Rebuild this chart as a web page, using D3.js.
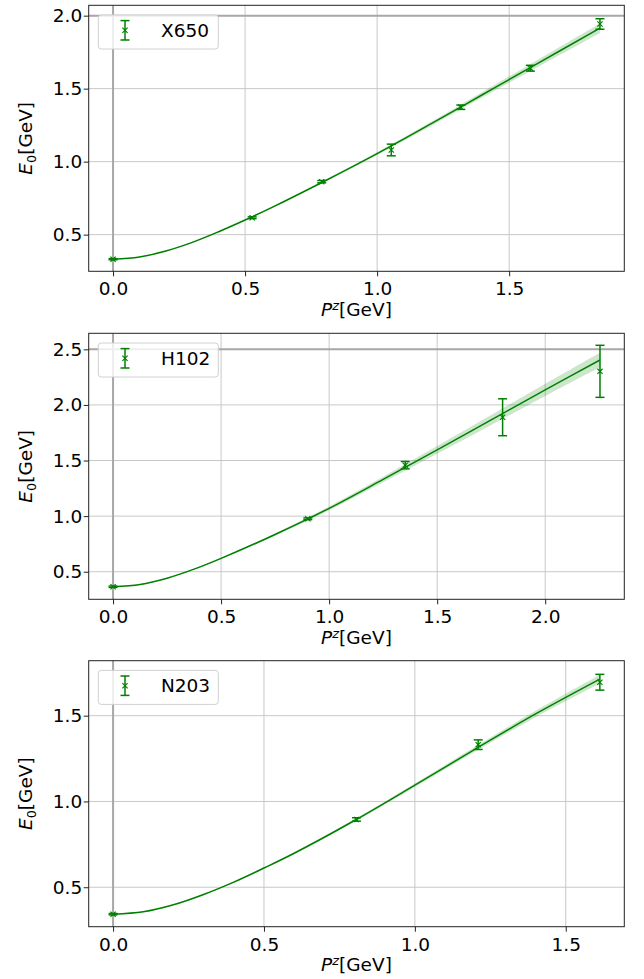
<!DOCTYPE html>
<html>
<head>
<meta charset="utf-8">
<script src="https://cdn.jsdelivr.net/npm/d3@7"></script>
<style>
  html, body { margin: 0; padding: 0; background: #fff; }
  svg { display: block; }
  text { font-family: "DejaVu Sans", Verdana, sans-serif; fill: #000; }
</style>
</head>
<body>
<svg id="chart" width="644" height="979"></svg>
<script>
// ---------------- DATA ----------------
const ensembles = ["X650", "H102", "N203"];

// X650
const pzX650   = [0, 0.5268, 0.7902, 1.0536, 1.3170, 1.5804, 1.8438];
const eX650    = [0.332, 0.616, 0.863, 1.080, 1.373, 1.640, 1.943];
const errX650  = [0.004, 0.006, 0.008, 0.040, 0.015, 0.020, 0.036];
const fitPX650 = [0, 0.1, 0.2, 0.3, 0.4, 0.5, 0.6, 0.8, 1.0, 1.2, 1.4, 1.6, 1.8438];
const fitEX650 = [0.332, 0.347, 0.388, 0.447, 0.520, 0.600, 0.685, 0.866, 1.055, 1.255, 1.460, 1.665, 1.914];
const fitDX650 = [0.002, 0.002, 0.002, 0.003, 0.003, 0.004, 0.004, 0.006, 0.010, 0.014, 0.019, 0.025, 0.033];

// H102
const pzH102   = [0, 0.9014, 1.3521, 1.8028, 2.2535];
const eH102    = [0.365, 0.976, 1.458, 1.889, 2.302];
const errH102  = [0.006, 0.008, 0.033, 0.166, 0.234];
const fitPH102 = [0, 0.125, 0.25, 0.375, 0.5, 0.75, 1.0, 1.25, 1.5, 1.75, 2.0, 2.2535];
const fitEH102 = [0.365, 0.386, 0.442, 0.523, 0.620, 0.835, 1.070, 1.330, 1.595, 1.865, 2.135, 2.404];
const fitDH102 = [0.003, 0.003, 0.003, 0.004, 0.005, 0.010, 0.017, 0.025, 0.035, 0.045, 0.055, 0.065];

// N203
const pzN203   = [0, 0.8065, 1.2098, 1.6130];
const eN203    = [0.343, 0.895, 1.331, 1.695];
const errN203  = [0.004, 0.010, 0.028, 0.046];
const fitPN203 = [0, 0.1, 0.2, 0.3, 0.4, 0.5, 0.6, 0.8, 1.0, 1.2, 1.4, 1.613];
const fitEN203 = [0.343, 0.357, 0.398, 0.458, 0.530, 0.612, 0.698, 0.889, 1.095, 1.305, 1.510, 1.713];
const fitDN203 = [0.002, 0.002, 0.002, 0.003, 0.003, 0.004, 0.005, 0.007, 0.010, 0.014, 0.019, 0.026];

// axis ranges and ticks
const xDomains = [[-0.0922, 1.936], [-0.1127, 2.366], [-0.0808, 1.694]];
const yDomains = [[0.249, 2.071], [0.252, 2.644], [0.270, 1.8205]];
const xTicks = [[0, 0.5, 1.0, 1.5], [0, 0.5, 1.0, 1.5, 2.0], [0, 0.5, 1.0, 1.5]];
const yTicks = [[0.5, 1.0, 1.5, 2.0], [0.5, 1.0, 1.5, 2.0, 2.5], [0.5, 1.0, 1.5]];
const refY   = [[2.0], [2.5], []];
const refX   = [[0], [0], [0]];

// ---------------- LAYOUT ----------------
const svg = d3.select("#chart");
svg.append("rect").attr("width", 644).attr("height", 979).attr("fill", "#fff");

const left = 88.7, right = 624.3;
const tops = [5.3, 333.3, 660.7];
const plotH = 266;
const green = "#008000";
const FS = 18.5;

const datasets = [
  {pz: pzX650, e: eX650, err: errX650, fp: fitPX650, fe: fitEX650, fd: fitDX650},
  {pz: pzH102, e: eH102, err: errH102, fp: fitPH102, fe: fitEH102, fd: fitDH102},
  {pz: pzN203, e: eN203, err: errN203, fp: fitPN203, fe: fitEN203, fd: fitDN203}
];

datasets.forEach((ds, i) => {
  const top = tops[i], bottom = top + plotH;
  const x = d3.scaleLinear().domain(xDomains[i]).range([left, right]);
  const y = d3.scaleLinear().domain(yDomains[i]).range([bottom, top]);
  const g = svg.append("g");

  // grid
  const grid = g.append("g");
  grid.selectAll(".gx").data(xTicks[i]).join("line")
    .attr("x1", d => x(d)).attr("x2", d => x(d))
    .attr("y1", top).attr("y2", bottom)
    .attr("stroke", "#c8c8c8").attr("stroke-width", 1);
  grid.selectAll(".gy").data(yTicks[i]).join("line")
    .attr("x1", left).attr("x2", right)
    .attr("y1", d => y(d)).attr("y2", d => y(d))
    .attr("stroke", "#c8c8c8").attr("stroke-width", 1);

  // reference lines
  grid.selectAll(".rx").data(refX[i]).join("line")
    .attr("x1", d => x(d)).attr("x2", d => x(d))
    .attr("y1", top).attr("y2", bottom)
    .attr("stroke", "#a8a8a8").attr("stroke-width", 2);
  grid.selectAll(".ry").data(refY[i]).join("line")
    .attr("x1", left).attr("x2", right)
    .attr("y1", d => y(d)).attr("y2", d => y(d))
    .attr("stroke", "#a8a8a8").attr("stroke-width", 2);

  // fit band + line
  const fit = ds.fp.map((p, k) => ({p, e: ds.fe[k], d: ds.fd[k]}));
  const crv = d3.curveCatmullRom.alpha(0.5);
  g.append("path").datum(fit)
    .attr("d", d3.area().curve(crv)
      .x(d => x(d.p)).y0(d => y(d.e - d.d)).y1(d => y(d.e + d.d)))
    .attr("fill", green).attr("fill-opacity", 0.2);
  g.append("path").datum(fit)
    .attr("d", d3.line().curve(crv).x(d => x(d.p)).y(d => y(d.e)))
    .attr("fill", "none").attr("stroke", green).attr("stroke-width", 1.5);

  // error bars
  const pts = ds.pz.map((p, k) => ({p, e: ds.e[k], s: ds.err[k]}));
  const eb = g.append("g").attr("stroke", green).attr("stroke-width", 1.5).attr("fill", "none");
  const cap = 4.5, mk = 2.6;
  pts.forEach(d => {
    const cx = x(d.p), y0 = y(d.e - d.s), y1 = y(d.e + d.s), cy = y(d.e);
    eb.append("line").attr("x1", cx).attr("x2", cx).attr("y1", y0).attr("y2", y1);
    eb.append("line").attr("x1", cx - cap).attr("x2", cx + cap).attr("y1", y0).attr("y2", y0);
    eb.append("line").attr("x1", cx - cap).attr("x2", cx + cap).attr("y1", y1).attr("y2", y1);
    eb.append("path").attr("d", `M${cx-mk},${cy-mk}L${cx+mk},${cy+mk}M${cx-mk},${cy+mk}L${cx+mk},${cy-mk}`)
      .attr("stroke-width", 1.2);
  });

  // axes
  const xa = g.append("g").attr("transform", `translate(0,${bottom})`)
    .call(d3.axisBottom(x).tickValues(xTicks[i]).tickFormat(d3.format(".1f")).tickSize(5).tickPadding(6));
  const ya = g.append("g").attr("transform", `translate(${left},0)`)
    .call(d3.axisLeft(y).tickValues(yTicks[i]).tickFormat(d3.format(".1f")).tickSize(5).tickPadding(1.5));
  [xa, ya].forEach(a => {
    a.select(".domain").remove();
    a.selectAll(".tick line").attr("stroke", "#222").attr("stroke-width", 1);
    a.selectAll("text").attr("font-size", FS).attr("font-family", "DejaVu Sans").attr("fill", "#000");
  });

  // spines
  g.append("rect").attr("x", left).attr("y", top).attr("width", right - left).attr("height", plotH)
    .attr("fill", "none").attr("stroke", "#222").attr("stroke-width", 1);

  // axis labels
  const xl = g.append("text").attr("x", (left + right) / 2).attr("y", bottom + 44.5)
    .attr("text-anchor", "middle").attr("font-size", FS);
  xl.append("tspan").attr("font-style", "italic").text("P");
  xl.append("tspan").attr("font-style", "italic").attr("font-size", FS * 0.7).attr("dy", -6).text("z");
  xl.append("tspan").attr("dy", 6).text("[GeV]");

  const yl = g.append("text").attr("transform", `translate(32,${(top + bottom) / 2}) rotate(-90)`)
    .attr("text-anchor", "middle").attr("font-size", FS);
  yl.append("tspan").attr("font-style", "italic").text("E");
  yl.append("tspan").attr("font-size", FS * 0.7).attr("dy", 4).text("0");
  yl.append("tspan").attr("dy", -4).text("[GeV]");

  // legend
  const lg = g.append("g").attr("transform", `translate(${left + 9.6},${top + 9.7})`);
  lg.append("rect").attr("width", 120).attr("height", 34).attr("rx", 3)
    .attr("fill", "#fff").attr("fill-opacity", 0.8).attr("stroke", "#d0d0d0").attr("stroke-width", 1);
  const lx = 26.7, ly = 15.3, lh = 9.7;
  const ls = lg.append("g").attr("stroke", green).attr("stroke-width", 1.5);
  ls.append("line").attr("x1", lx).attr("x2", lx).attr("y1", ly - lh).attr("y2", ly + lh);
  ls.append("line").attr("x1", lx - cap).attr("x2", lx + cap).attr("y1", ly - lh).attr("y2", ly - lh);
  ls.append("line").attr("x1", lx - cap).attr("x2", lx + cap).attr("y1", ly + lh).attr("y2", ly + lh);
  ls.append("path").attr("d", `M${lx-mk},${ly-mk}L${lx+mk},${ly+mk}M${lx-mk},${ly+mk}L${lx+mk},${ly-mk}`)
    .attr("stroke-width", 1.2).attr("fill", "none");
  lg.append("text").attr("x", 62.7).attr("y", 22).attr("font-size", FS).text(ensembles[i]);
});
</script>
</body>
</html>
